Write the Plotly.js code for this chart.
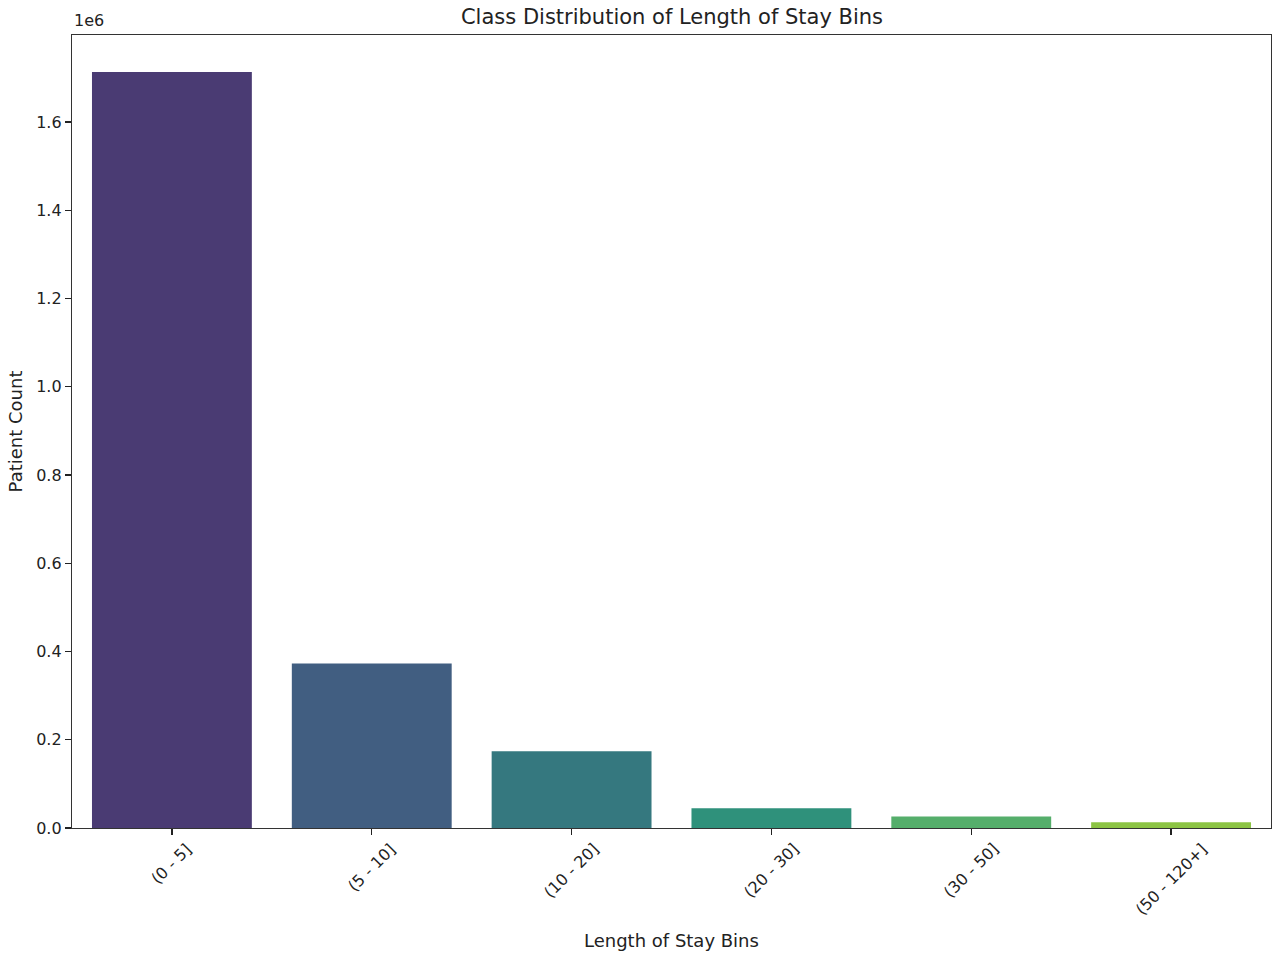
<!DOCTYPE html>
<html>
<head>
<meta charset="utf-8">
<script src="https://cdn.plot.ly/plotly-3.0.1.min.js"></script>
<style>html,body{margin:0;padding:0;background:#fff;}#chart{width:1280px;height:959px;}</style>
</head>
<body>
<div id="chart"></div>
<script>
const categories = ["(0 - 5]", "(5 - 10]", "(10 - 20]", "(20 - 30]", "(30 - 50]", "(50 - 120+]"];
const patientCounts = [1713000, 373000, 174000, 45000, 26000, 13000];
const barColors = ["#4a3b73", "#415e81", "#35787f", "#2f917b", "#55ae6b", "#8cc444"];
const yTickVals = [0, 200000, 400000, 600000, 800000, 1000000, 1200000, 1400000, 1600000];
const yTickText = ["0.0", "0.2", "0.4", "0.6", "0.8", "1.0", "1.2", "1.4", "1.6"];

const font = "DejaVu Sans, sans-serif";
const txt = "#222";

const trace = {
  type: "bar",
  x: categories,
  y: patientCounts,
  width: 0.8,
  marker: {color: barColors, line: {width: 0}},
  hoverinfo: "x+y"
};

const tickAnnotations = categories.map(c => ({
  x: c, xref: "x", y: 0, yref: "y",
  text: c, showarrow: false, textangle: -45,
  xanchor: "center", yanchor: "top", yshift: -9,
  font: {family: font, size: 16, color: txt}
}));

const layout = {
  width: 1280, height: 959,
  paper_bgcolor: "#fff", plot_bgcolor: "#fff",
  margin: {l: 72, r: 9, t: 35, b: 131},
  showlegend: false,
  title: {text: "Class Distribution of Length of Stay Bins", font: {family: font, size: 21, color: txt}, x: 0.525, xanchor: "center", y: 0.983, yanchor: "middle"},
  xaxis: {
    type: "category", categoryorder: "array", categoryarray: categories,
    range: [-0.5, 5.5],
    showticklabels: false,
    ticks: "outside", ticklen: 6, tickwidth: 1.2, tickcolor: "#222",
    showline: true, linecolor: "#333", linewidth: 1.2, mirror: true,
    showgrid: false, zeroline: false
  },
  yaxis: {
    range: [0, 1797000],
    tickvals: yTickVals, ticktext: yTickText,
    ticks: "outside", ticklen: 6, tickwidth: 1.2, tickcolor: "#222",
    tickfont: {family: font, size: 16, color: txt},
    showline: true, linecolor: "#333", linewidth: 1.2, mirror: true,
    showgrid: false, zeroline: false,
    title: {text: "Patient Count", font: {family: font, size: 18, color: txt}, standoff: 8}
  },
  annotations: tickAnnotations.concat([
    {xref: "paper", yref: "paper", x: 0, y: 1, xanchor: "left", yanchor: "bottom", yshift: 3,
     text: "1e6", showarrow: false, font: {family: font, size: 16, color: txt}},
    {xref: "paper", yref: "paper", x: 0.5, y: -0.142, xanchor: "center", yanchor: "middle",
     text: "Length of Stay Bins", showarrow: false, font: {family: font, size: 18, color: txt}}
  ])
};

Plotly.newPlot("chart", [trace], layout, {displayModeBar: false, staticPlot: true});
</script>
</body>
</html>
